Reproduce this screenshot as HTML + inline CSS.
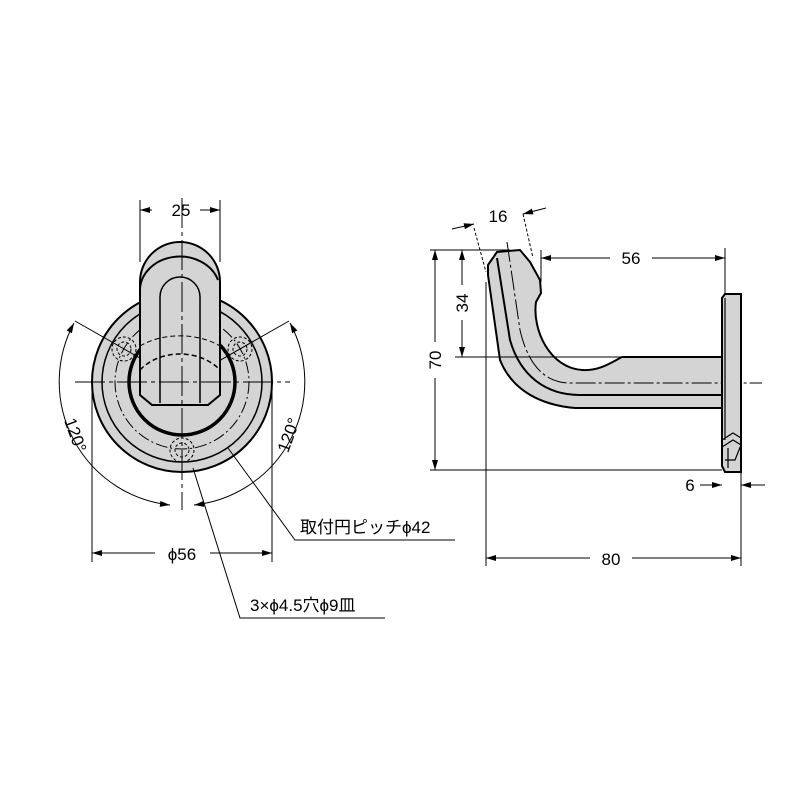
<!DOCTYPE html>
<html><head><meta charset="utf-8"><style>body{margin:0;background:#fff}svg{display:block}text{font-family:"Liberation Sans","Noto Sans CJK JP",sans-serif;fill:#000}</style></head><body>
<svg width="800" height="800" viewBox="0 0 800 800" xmlns="http://www.w3.org/2000/svg">
<defs>
<marker id="a" viewBox="0 0 10 6" refX="10" refY="3" markerWidth="11" markerHeight="6" orient="auto-start-reverse" markerUnits="userSpaceOnUse"><path d="M0,0L10,3L0,6z" fill="#000"/></marker>
</defs>
<g stroke="#000" fill="none">
<!-- front view -->
<circle cx="182" cy="382" r="90" fill="#d4d4d4" stroke-width="2"/>
<circle cx="182" cy="382" r="80" stroke-width="1.5"/>
<circle cx="182" cy="382" r="67" stroke-width="1" stroke-dasharray="12,3,2,3"/>
<circle cx="182" cy="382" r="53" fill="#d4d4d4" stroke-width="3.5"/>
<g stroke-width="1" stroke-dasharray="3,2">
<circle cx="124" cy="349" r="12"/><circle cx="124" cy="349" r="7"/>
<circle cx="240" cy="349" r="12"/><circle cx="240" cy="349" r="7"/>
<circle cx="182" cy="450" r="12"/><circle cx="182" cy="450" r="7"/>
</g>
<g stroke-width="1">
<line x1="182" y1="382" x2="75" y2="321"/><line x1="182" y1="382" x2="289" y2="321"/>
</g>
<path d="M140,395 L140,282 A40,40 0 0 1 220,282 L220,395 L208,405 L152,405 L140,395 Z" fill="#d4d4d4" stroke-width="2"/>
<path d="M140,292 A40,34 0 0 1 218,280" stroke-width="2"/>
<path d="M160,403 L160,297 A20,20 0 0 1 200,297 L200,403" stroke-width="1.5"/>
<path d="M140,346 A60,40 0 0 1 220,346" stroke-width="1" stroke-dasharray="5,3"/>
<path d="M140,370 A50,40 0 0 1 220,370" stroke-width="1.5" stroke-dasharray="5,3"/>
<g stroke-width="1">
<line x1="75" y1="382" x2="290" y2="382" stroke-dasharray="30,4,4,4"/>
<line x1="182" y1="198" x2="182" y2="510" stroke-dasharray="30,4,4,4"/>
<line x1="140" y1="200" x2="140" y2="262"/><line x1="220" y1="200" x2="220" y2="262"/>
<line x1="152" y1="210" x2="140" y2="210" marker-end="url(#a)"/><line x1="200" y1="210" x2="220" y2="210" marker-end="url(#a)"/>
<path d="M74,323 A124,124 0 0 0 170,505" marker-start="url(#a)" marker-end="url(#a)"/>
<path d="M290,323 A124,124 0 0 1 194,505" marker-start="url(#a)" marker-end="url(#a)"/>
<line x1="92" y1="385" x2="92" y2="562"/><line x1="272" y1="385" x2="272" y2="562"/>
<line x1="155" y1="553" x2="92" y2="553" marker-end="url(#a)"/><line x1="210" y1="553" x2="272" y2="553" marker-end="url(#a)"/>
<polyline points="228,448 295,540 455,540"/>
<polyline points="193,468 240,618 385,618"/>
</g>
<!-- side view -->
<path d="M488,265 L497,252 L520,250 L530,262 L540,280 L541,293 L536,302 C532,330 550,368 582,370 C600,371 612,362 622,357 L722,357 L722,408 L575,408 C540,405 512,390 500,360 L488,275 Z" fill="#d4d4d4" stroke-width="2"/>
<path d="M497,258 L510,340 C520,375 545,395 580,395 L722,395" stroke-width="2"/>
<path d="M507,242 L520,330 C528,365 545,383 570,383 L762,383" stroke-width="1" stroke-dasharray="20,3,3,3"/>
<path d="M722,298 L725,294 L741,294 L741,472 L725,472 L722,466 Z" fill="#d4d4d4" stroke-width="2"/>
<path d="M725,298 L725,440 M722,440 L733,433 L741,438 M722,447 L733,440 L741,445 L735,460 L725,460 M728,448 L728,468" stroke-width="1.2"/>
<g stroke-width="1">
<line x1="430" y1="250" x2="510" y2="250"/><line x1="430" y1="470" x2="722" y2="470"/>
<line x1="435" y1="342" x2="435" y2="250" marker-end="url(#a)"/><line x1="435" y1="378" x2="435" y2="470" marker-end="url(#a)"/>
<line x1="455" y1="357" x2="622" y2="357"/>
<line x1="462" y1="285" x2="462" y2="250" marker-end="url(#a)"/><line x1="462" y1="320" x2="462" y2="357" marker-end="url(#a)"/>
<line x1="541" y1="250" x2="541" y2="282"/><line x1="725" y1="248" x2="725" y2="294"/>
<line x1="610" y1="258" x2="541" y2="258" marker-end="url(#a)"/><line x1="652" y1="258" x2="725" y2="258" marker-end="url(#a)"/>
<line x1="474" y1="228" x2="486" y2="272" stroke-dasharray="3,2"/><line x1="523" y1="214" x2="533" y2="258" stroke-dasharray="3,2"/>
<line x1="452" y1="229" x2="474" y2="224" marker-end="url(#a)"/><line x1="546" y1="208" x2="523" y2="214" marker-end="url(#a)"/>
<line x1="486" y1="282" x2="486" y2="566"/><line x1="741" y1="472" x2="741" y2="566"/>
<line x1="700" y1="485" x2="722" y2="485" marker-end="url(#a)"/><line x1="765" y1="485" x2="741" y2="485" marker-end="url(#a)"/>
<line x1="590" y1="558" x2="486" y2="558" marker-end="url(#a)"/><line x1="632" y1="558" x2="741" y2="558" marker-end="url(#a)"/>
</g>
</g>
<g font-size="17">
<text x="181" y="216" text-anchor="middle">25</text>
<text x="182" y="560" text-anchor="middle">ϕ56</text>
<text x="70" y="437" text-anchor="middle" transform="rotate(70 70 437)">120°</text>
<text x="294" y="437" text-anchor="middle" transform="rotate(-70 294 437)">120°</text>
<text x="300" y="533">取付円ピッチϕ42</text>
<text x="250" y="611">3×ϕ4.5穴ϕ9皿</text>
<text x="631" y="264" text-anchor="middle">56</text>
<text x="498" y="222" text-anchor="middle">16</text>
<text x="441" y="360" text-anchor="middle" transform="rotate(-90 441 360)">70</text>
<text x="468" y="303" text-anchor="middle" transform="rotate(-90 468 303)">34</text>
<text x="690" y="491" text-anchor="middle">6</text>
<text x="611" y="565" text-anchor="middle">80</text>
</g>
</svg>
</body></html>
